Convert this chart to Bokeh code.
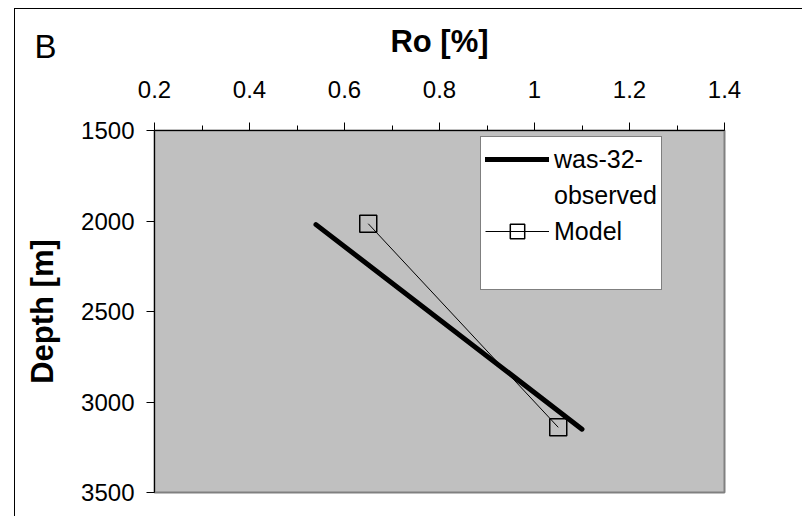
from bokeh.plotting import figure
from bokeh.models import Range1d, FixedTicker, Legend, LegendItem, Label
from bokeh.embed import file_html
from bokeh.resources import INLINE

# ---- data ----
ro_observed = [0.54, 1.10]
depth_observed = [2020, 3150]
ro_model = [0.65, 1.05]
depth_model = [2015, 3140]

x_ticks = [0.2, 0.4, 0.6, 0.8, 1.0, 1.2, 1.4]
x_tick_labels = ["0.2", "0.4", "0.6", "0.8", "1", "1.2", "1.4"]
x_minor_ticks = [0.3, 0.5, 0.7, 0.9, 1.1, 1.3]
y_ticks = [1500, 2000, 2500, 3000, 3500]
y_tick_labels = ["1500", "2000", "2500", "3000", "3500"]

panel_letter = "B"
x_title = "Ro [%]"
y_title = "Depth [m]"
legend_label_lines = ["was-32-", "observed", "Model"]

FONT = "Liberation Sans"

p = figure(
    width=788, height=508,
    x_range=Range1d(x_ticks[0], x_ticks[-1]),
    y_range=Range1d(y_ticks[-1], y_ticks[0]),
    x_axis_location="above",
    output_backend="svg", toolbar_location=None,
    min_border_left=139, min_border_right=79,
    min_border_top=121, min_border_bottom=25,
)
p.styles = {"margin-left": "14px", "margin-top": "8px",
            "border-left": "1px solid black", "border-top": "1px solid black"}

p.background_fill_color = "#C0C0C0"
p.border_fill_color = "white"
p.outline_line_color = "#808080"
p.outline_line_width = 2
p.xgrid.visible = False
p.ygrid.visible = False

# x axis (top)
xa = p.xaxis[0]
xa.ticker = FixedTicker(ticks=x_ticks, minor_ticks=x_minor_ticks)
xa.major_label_overrides = dict(zip(x_ticks, x_tick_labels))
xa.axis_label = x_title
xa.axis_label_text_font = FONT
xa.axis_label_text_font_style = "bold"
xa.axis_label_text_font_size = "31px"
xa.axis_label_text_color = "black"
xa.axis_label_standoff = 19
xa.major_label_text_font = FONT
xa.major_label_text_font_size = "24px"
xa.major_label_text_color = "black"
xa.major_label_standoff = 25
xa.major_tick_out = 8
xa.major_tick_in = 0
xa.minor_tick_out = 5
xa.minor_tick_in = 0
xa.axis_line_color = "black"
xa.major_tick_line_color = "black"
xa.minor_tick_line_color = "black"

# y axis (left)
ya = p.yaxis[0]
ya.ticker = FixedTicker(ticks=y_ticks)
ya.major_label_overrides = dict(zip(y_ticks, y_tick_labels))
ya.axis_label = y_title
ya.axis_label_text_font = FONT
ya.axis_label_text_font_style = "bold"
ya.axis_label_text_font_size = "31px"
ya.axis_label_text_color = "black"
ya.axis_label_standoff = 18
ya.major_label_text_font = FONT
ya.major_label_text_font_size = "24px"
ya.major_label_text_color = "black"
ya.major_label_standoff = 12
ya.major_tick_out = 8
ya.major_tick_in = 0
ya.minor_tick_line_color = None
ya.axis_line_color = "black"

obs = p.line(ro_observed, depth_observed, line_color="black", line_width=5, line_cap="round")
mod_line = p.line(ro_model, depth_model, line_color="black", line_width=1)
mod_pts = p.scatter(ro_model, depth_model, marker="square", size=17,
                    fill_color=None, line_color="black", line_width=1.5)

legend = Legend(
    items=[LegendItem(label=legend_label_lines[0], renderers=[obs]),
           LegendItem(label=legend_label_lines[1], renderers=[]),
           LegendItem(label=legend_label_lines[2], renderers=[mod_line, mod_pts]),
           LegendItem(label=" ", renderers=[])],
    location=(326, 202),
    border_line_color="black", border_line_width=1,
    background_fill_color="white", background_fill_alpha=1,
    label_text_font=FONT, label_text_font_size="25px", label_text_color="black",
    glyph_width=64, glyph_height=36, label_standoff=5,
    padding=4, spacing=0, margin=0,
)
p.add_layout(legend, "center")

# panel letter: a label in the right side panel (side panels are not clipped),
# offset back to the top-left corner of the chart
letter = Label(x=-690, y=446, x_units="screen", y_units="screen",
               text=panel_letter, text_font=FONT, text_font_size="33px",
               text_baseline="alphabetic", text_align="left", text_color="black")
p.add_layout(letter, "right")

open("out.html", "w").write(file_html(p, INLINE))
